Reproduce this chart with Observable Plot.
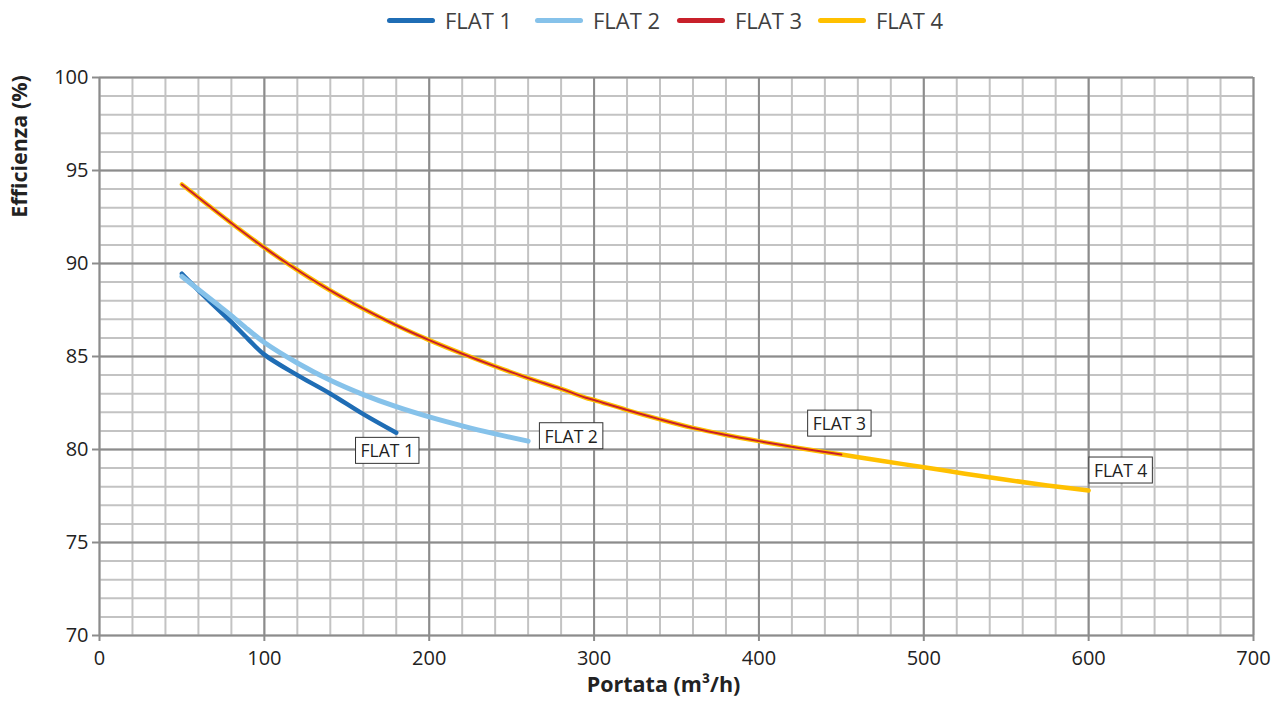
<!DOCTYPE html>
<html>
<head>
<meta charset="utf-8">
<script src="https://cdn.jsdelivr.net/npm/d3@7"></script>
<script src="https://cdn.jsdelivr.net/npm/@observablehq/plot@0.6"></script>
<style>
  html, body { margin: 0; padding: 0; background: #fff; }
  body { width: 1280px; height: 706px; overflow: hidden; font-family: "Open Sans", sans-serif; }
  #legend { height: 40px; position: relative; }
  .item { position: absolute; top: 0; height: 40px; display: flex; align-items: center; font-size: 22px; color: #404040; }
  .sw { width: 48px; height: 5px; border-radius: 3px; margin-right: 10px; }
</style>
</head>
<body>
<div id="legend"></div>
<div id="chart"></div>
<script>
// ---- data ----
const seriesNames = ["FLAT 1", "FLAT 2", "FLAT 3", "FLAT 4"];
const seriesColors = ["#1f6db5", "#86c2ea", "#c8202a", "#ffc000"];

const flat1X = [50, 60, 70, 80, 90, 100, 120, 140, 160, 180];
const flat1Y = [89.45, 88.55, 87.7, 86.85, 85.95, 85.1, 84.0, 83.0, 81.9, 80.9];

const flat2X = [50, 60, 70, 80, 90, 100, 120, 140, 160, 180, 200, 220, 240, 260];
const flat2Y = [89.3, 88.6, 87.9, 87.2, 86.45, 85.75, 84.65, 83.72, 82.95, 82.3, 81.75, 81.27, 80.84, 80.45];

const flat3X = [50, 60, 80, 100, 120, 140, 160, 180, 200, 220, 240, 260, 280, 295, 300, 320, 340, 360, 380, 400, 425, 450];
const flat3Y = [94.25, 93.55, 92.17, 90.85, 89.65, 88.55, 87.57, 86.68, 85.88, 85.15, 84.47, 83.84, 83.26, 82.78, 82.66, 82.12, 81.62, 81.16, 80.78, 80.45, 80.07, 79.73];

const flat4X = [50, 60, 80, 100, 120, 140, 160, 180, 200, 220, 240, 260, 280, 295, 300, 320, 340, 360, 380, 400, 425, 450, 475, 500, 525, 550, 575, 600];
const flat4Y = [94.25, 93.55, 92.17, 90.85, 89.65, 88.55, 87.57, 86.68, 85.88, 85.15, 84.47, 83.84, 83.26, 82.78, 82.66, 82.12, 81.62, 81.16, 80.78, 80.45, 80.07, 79.73, 79.38, 79.05, 78.7, 78.37, 78.07, 77.8];

const xTicks = [0, 100, 200, 300, 400, 500, 600, 700];
const yTicks = [70, 75, 80, 85, 90, 95, 100];
const xMinor = d3.range(0, 701, 20);
const yMinor = d3.range(70, 101, 1);

const xTitle = "Portata (m³/h)";
const yTitle = "Efficienza (%)";

// ---- build tables ----
const toRows = (xs, ys) => xs.map((x, i) => ({x, y: ys[i]}));
const s1 = toRows(flat1X, flat1Y);
const s2 = toRows(flat2X, flat2Y);
const s3 = toRows(flat3X, flat3Y);
const s4 = toRows(flat4X, flat4Y);
const last = a => [a[a.length - 1]];

// ---- legend ----
const legend = document.getElementById("legend");
const legendLeft = [387, 535, 677, 818];
seriesNames.forEach((n, i) => {
  const it = document.createElement("div");
  it.className = "item";
  it.style.left = legendLeft[i] + "px";
  it.innerHTML = `<div class="sw" style="background:${seriesColors[i]}"></div><span>${n}</span>`;
  legend.appendChild(it);
});

const font = "Open Sans, sans-serif";
const labelStyle = {fontSize: 17.5, fill: "#222", fontFamily: font};
const crv = "catmull-rom";

const plot = Plot.plot({
  width: 1280,
  height: 666,
  marginTop: 37,
  marginBottom: 71,
  marginLeft: 99,
  marginRight: 27,
  style: {fontFamily: font, background: "#fff"},
  x: {domain: [0, 700]},
  y: {domain: [70, 100]},
  marks: [
    Plot.ruleX(xMinor, {stroke: "#c3c3c3", strokeWidth: 2}),
    Plot.ruleY(yMinor, {stroke: "#c3c3c3", strokeWidth: 2}),
    Plot.ruleX(xTicks, {stroke: "#8c8c8c", strokeWidth: 2}),
    Plot.ruleY(yTicks, {stroke: "#8c8c8c", strokeWidth: 2}),
    Plot.axisX({ticks: xTicks, tickSize: 6, tickPadding: 9, fontSize: 20, label: null, stroke: "#8c8c8c", strokeWidth: 2, color: "#222"}),
    Plot.axisY({ticks: yTicks, tickSize: 7, tickPadding: 4, fontSize: 20, label: null, stroke: "#8c8c8c", strokeWidth: 2, color: "#222"}),
    Plot.line(s1, {x: "x", y: "y", stroke: seriesColors[0], strokeWidth: 4.5, curve: crv, strokeLinecap: "round"}),
    Plot.line(s2, {x: "x", y: "y", stroke: seriesColors[1], strokeWidth: 5, curve: crv, strokeLinecap: "round"}),
    Plot.line(s4, {x: "x", y: "y", stroke: seriesColors[3], strokeWidth: 4.5, curve: crv, strokeLinecap: "round"}),
    Plot.line(s3, {x: "x", y: "y", stroke: seriesColors[2], strokeWidth: 2, curve: crv, strokeLinecap: "round"}),
    Plot.text(last(s1), {x: "x", y: "y", text: () => seriesNames[0], dx: -9, dy: 19, ...labelStyle}),
    Plot.text(last(s2), {x: "x", y: "y", text: () => seriesNames[1], dx: 43, dy: -4, ...labelStyle}),
    Plot.text(last(s3), {x: "x", y: "y", text: () => seriesNames[2], dx: -2, dy: -30, ...labelStyle}),
    Plot.text(last(s4), {x: "x", y: "y", text: () => seriesNames[3], dx: 32, dy: -19, ...labelStyle}),
    Plot.text([xTitle], {frameAnchor: "bottom", dx: -13, dy: 56, fontSize: 21.5, fontWeight: "bold", fill: "#222"}),
    Plot.text([yTitle], {frameAnchor: "top-left", textAnchor: "middle", lineAnchor: "middle", rotate: -90, dx: -79, dy: 69, fontSize: 21.5, fontWeight: "bold", fill: "#222"})
  ]
});
document.getElementById("chart").appendChild(plot);

// boxes around the data labels
plot.querySelectorAll("text").forEach(t => {
  if (!seriesNames.includes(t.textContent)) return;
  const b = t.getBBox();
  const r = document.createElementNS("http://www.w3.org/2000/svg", "rect");
  r.setAttribute("x", b.x - 5);
  r.setAttribute("y", b.y - 1);
  r.setAttribute("width", b.width + 10);
  r.setAttribute("height", b.height + 2);
  r.setAttribute("fill", "#fff");
  r.setAttribute("stroke", "#333");
  r.setAttribute("stroke-width", 1);
  if (t.getAttribute("transform")) r.setAttribute("transform", t.getAttribute("transform"));
  t.parentNode.insertBefore(r, t);
});
</script>
</body>
</html>
